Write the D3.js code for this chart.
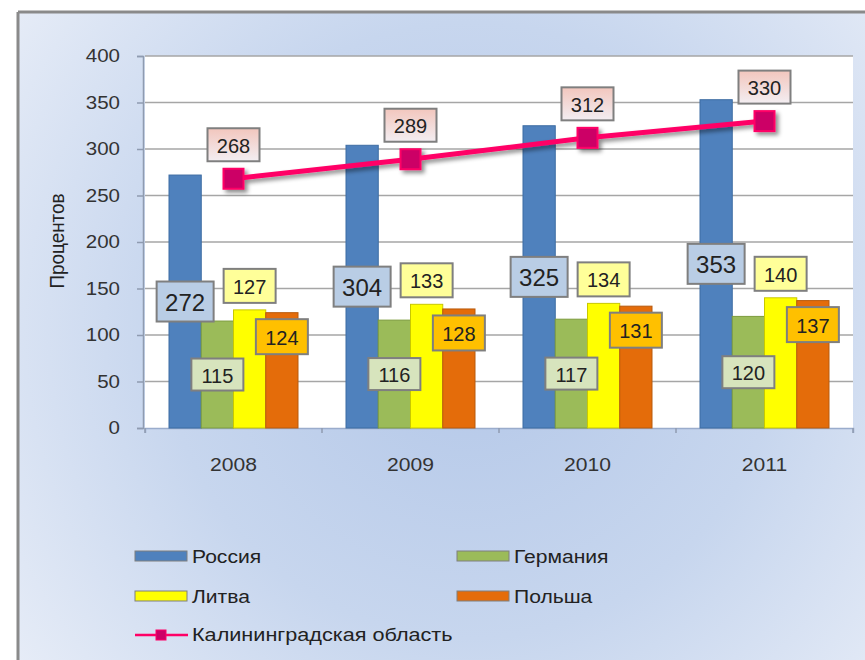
<!DOCTYPE html>
<html><head><meta charset="utf-8">
<script src="https://cdn.jsdelivr.net/npm/d3@7/dist/d3.min.js"></script>
<style>html,body{margin:0;padding:0;background:#fff}svg{display:block}</style>
</head><body>
<script>
const years = ['2008','2009','2010','2011'];
const russia = [272,304,325,353];
const germany = [115,116,117,120];
const lithuania = [127,133,134,140];
const poland = [124,128,131,137];
const kaliningrad = [268,289,312,330];
const yTicks = [0,50,100,150,200,250,300,350,400];
const seriesNames = ['Россия','Германия','Литва','Польша'];
const lineName = 'Калининградская область';
const yTitle = 'Процентов';

const W=865,H=660;
const FONT='"Liberation Sans", Arial, sans-serif';
const svg=d3.select('body').append('svg').attr('width',W).attr('height',H);
const defs=svg.append('defs');
const bg=defs.append('radialGradient').attr('id','bg').attr('gradientUnits','userSpaceOnUse')
  .attr('cx',470).attr('cy',330).attr('r',560);
bg.append('stop').attr('offset','0').attr('stop-color','#b3c7e8');
bg.append('stop').attr('offset','0.55').attr('stop-color','#c7d6ee');
bg.append('stop').attr('offset','1').attr('stop-color','#e6ecf7');
const pg=defs.append('linearGradient').attr('id','pink').attr('x1',0).attr('y1',0).attr('x2',0).attr('y2',1);
pg.append('stop').attr('offset','0').attr('stop-color','#f2c6bd');
pg.append('stop').attr('offset','1').attr('stop-color','#f3eef2');
const sh=defs.append('filter').attr('id','sh').attr('x','-20%').attr('y','-50%').attr('width','140%').attr('height','200%');
sh.append('feDropShadow').attr('dx',3).attr('dy',3).attr('stdDeviation',2).attr('flood-color','#000').attr('flood-opacity',0.45);

// frame & background
svg.append('rect').attr('x',18).attr('y',12).attr('width',W).attr('height',H).attr('fill','url(#bg)');
svg.append('line').attr('x1',18).attr('x2',18).attr('y1',12).attr('y2',H).attr('stroke','#8a8a8a').attr('stroke-width',3);
svg.append('line').attr('x1',18).attr('x2',W).attr('y1',12).attr('y2',12).attr('stroke','#8a8a8a').attr('stroke-width',3);

const x=d3.scaleBand().domain(years).range([145,853]);
const xs=d3.scaleBand().domain(seriesNames).range([24,153]);
const y=d3.scaleLinear().domain([0,400]).range([428,56]);

function txt(g,x0,y0,s,size,opts={}){
  const sx=opts.sx||1.14;
  const t=g.append('g').attr('transform',`translate(${x0},${y0}) scale(${sx},1)`)
   .append('text').text(s).attr('font-family',FONT).attr('font-size',size)
   .attr('fill',opts.fill||'#222').attr('text-anchor',opts.anchor||'middle')
   .attr('dominant-baseline','central');
  return t;
}

// plot area
svg.append('rect').attr('x',145).attr('y',56).attr('width',708).attr('height',372).attr('fill','#fff');
// gridlines
svg.append('g').selectAll('line').data(yTicks.filter(d=>d>0)).join('line')
  .attr('x1',145).attr('x2',853).attr('y1',d=>y(d)).attr('y2',d=>y(d))
  .attr('stroke','#a6a6a6').attr('stroke-width',1.5);

// y axis
const ya=svg.append('g').attr('transform','translate(143,0)')
  .call(d3.axisLeft(y).tickValues(yTicks).tickSize(6).tickFormat(''));
ya.select('.domain').attr('stroke','#8f9bb0').attr('stroke-width',1.5);
ya.selectAll('.tick line').attr('stroke','#8f9bb0').attr('stroke-width',1.5);
yTicks.forEach(v=>txt(svg,120,y(v),String(v),18,{anchor:'end',fill:'#333'}));
// y title
svg.append('text').text(yTitle).attr('transform',`translate(57,241) rotate(-90) scale(1.05,1.1)`)
  .attr('font-family',FONT).attr('font-size',18).attr('fill','#222')
  .attr('text-anchor','middle').attr('dominant-baseline','central');

// x axis
const xa=svg.append('g').attr('transform','translate(0,428)')
  .call(d3.axisBottom(x).tickSize(5).tickFormat(''));
xa.select('.domain').attr('stroke','#9aaccc').attr('stroke-width',1.5);
xa.selectAll('.tick line').remove();
xa.selectAll('line.t').data(d3.range(5)).join('line').attr('class','t')
  .attr('x1',i=>145+i*x.bandwidth()).attr('x2',i=>145+i*x.bandwidth()).attr('y1',0).attr('y2',5)
  .attr('stroke','#8f9bb0').attr('stroke-width',1.5);
years.forEach(yr=>txt(svg,x(yr)+x.bandwidth()/2,464,yr,18.5,{fill:'#333'}));

// bars
const series=[
  {name:seriesNames[0],vals:russia,fill:'#4f81bd',stroke:'#3d6ca3'},
  {name:seriesNames[1],vals:germany,fill:'#9bbb59',stroke:'#7d9c3e'},
  {name:seriesNames[2],vals:lithuania,fill:'#ffff00',stroke:'#c8c800'},
  {name:seriesNames[3],vals:poland,fill:'#e46c0a',stroke:'#b85a0c'}
];
const barG=svg.append('g');
series.forEach(s=>{
  barG.selectAll(null).data(years).join('rect')
    .attr('x',(d)=>x(d)+xs(s.name)).attr('width',xs.bandwidth())
    .attr('y',(d,i)=>y(s.vals[i])).attr('height',(d,i)=>y(0)-y(s.vals[i]))
    .attr('fill',s.fill).attr('stroke',s.stroke).attr('stroke-width',1);
});

// line
const lx=d=>x(d)+x.bandwidth()/2;
const lineG=svg.append('g').attr('filter','url(#sh)');
lineG.append('path').datum(years).attr('fill','none').attr('stroke','#ff0066').attr('stroke-width',5)
  .attr('d',d3.line().x(d=>lx(d)).y((d,i)=>y(kaliningrad[i])));
lineG.selectAll('rect').data(years).join('rect')
  .attr('x',d=>lx(d)-10).attr('y',(d,i)=>y(kaliningrad[i])-10).attr('width',20).attr('height',20)
  .attr('fill','#cc0066').attr('stroke','#ff0066').attr('stroke-width',2);

// labels
function label(cx,cy,w,h,s,fill,size,sx){
  svg.append('rect').attr('x',cx-w/2).attr('y',cy-h/2).attr('width',w).attr('height',h)
    .attr('fill',fill).attr('stroke','#7f7f7f').attr('stroke-width',2);
  txt(svg,cx,cy+1,s,size,{fill:'#222',sx:sx});
}
years.forEach((yr,i)=>{
  const bc=n=>x(yr)+xs(n)+xs.bandwidth()/2;
  label(bc(seriesNames[1]),y(germany[i]/2),52,32,String(germany[i]),'#d7e4bd',20,1);
  label(bc(seriesNames[3]),y(poland[i])+24,52,35,String(poland[i]),'#ffc000',20,1);
  label(bc(seriesNames[2]),y(lithuania[i])-24,52,34,String(lithuania[i]),'#ffff99',20,1);
  label(bc(seriesNames[0]),y(russia[i]/2),57,40,String(russia[i]),'#b9cde5',24,1);
  label(lx(yr),y(kaliningrad[i])-34,52,33,String(kaliningrad[i]),'url(#pink)',20,1);
});

// legend
const leg=svg.append('g');
const legItems=[
  {s:series[0],x:135,y:556},{s:series[1],x:457,y:556},
  {s:series[2],x:135,y:596},{s:series[3],x:457,y:596}
];
legItems.forEach(it=>{
  leg.append('rect').attr('x',it.x).attr('y',it.y-5).attr('width',52).attr('height',10)
    .attr('fill',it.s.fill).attr('stroke','#7f7f7f').attr('stroke-width',1);
  txt(leg,it.x+57,it.y,it.s.name,18.5,{anchor:'start',fill:'#222'});
});
leg.append('line').attr('x1',135).attr('x2',188).attr('y1',635).attr('y2',635).attr('stroke','#ff0066').attr('stroke-width',2.5);
leg.append('rect').attr('x',156).attr('y',630).attr('width',10).attr('height',10).attr('fill','#cc0066').attr('stroke','#ff0066').attr('stroke-width',1);
txt(leg,192,635,lineName,18.5,{anchor:'start',fill:'#222',sx:1.17});
</script>
</body></html>
